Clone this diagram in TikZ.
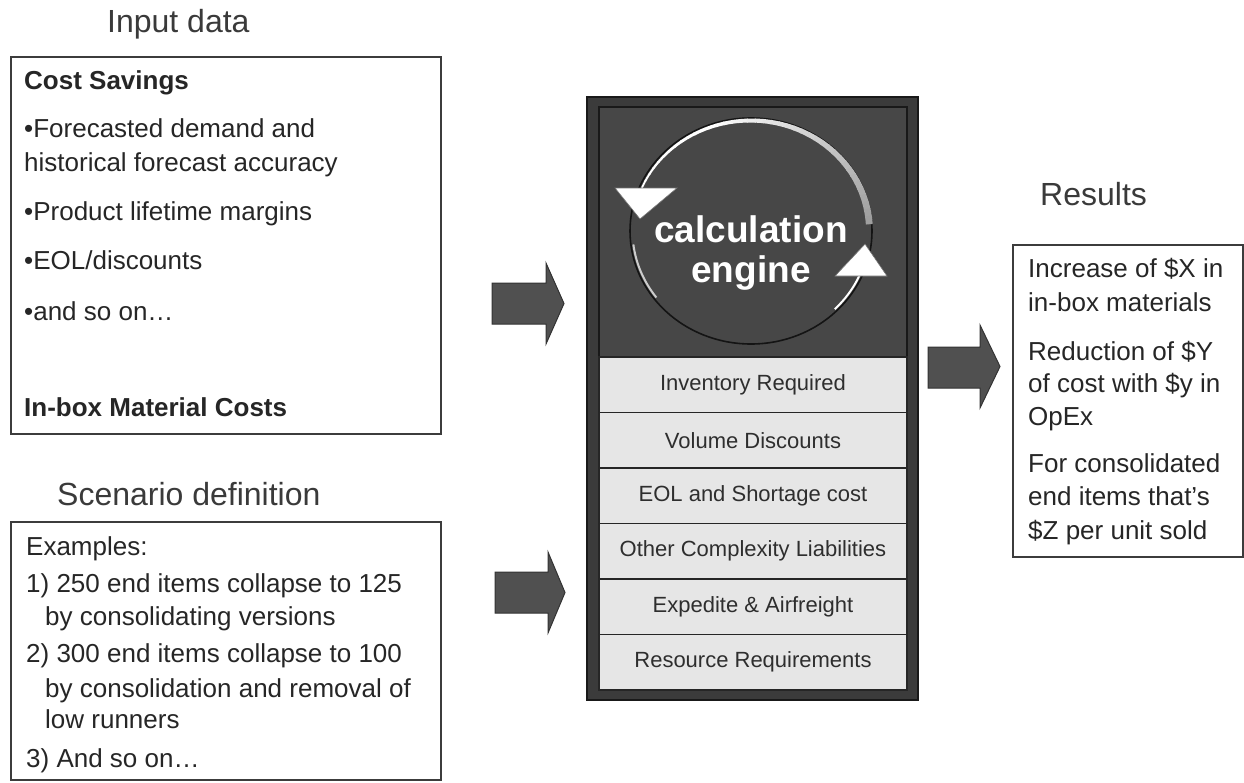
\documentclass[tikz,border=0pt]{standalone}
\usepackage{fontspec}
\setmainfont{Liberation Sans}
\definecolor{framegray}{HTML}{3B3B3B}
\definecolor{darkfill}{HTML}{474747}
\definecolor{rowfill}{HTML}{E6E6E6}
\definecolor{txtgray}{HTML}{262626}
\definecolor{ttlgray}{HTML}{3A3A3A}
\definecolor{boxgray}{HTML}{3C3C3C}
\definecolor{arrowfill}{HTML}{505050}
\definecolor{arrowdraw}{HTML}{333333}
\begin{document}
\begin{tikzpicture}[x=1pt,y=-1pt,
  txt/.style={anchor=base west, inner sep=0pt, text=txtgray, font=\fontsize{26}{30}\selectfont},
  ttl/.style={anchor=base west, inner sep=0pt, text=ttlgray, font=\fontsize{32}{38}\selectfont},
  panel/.style={draw=boxgray, line width=1.4pt, fill=white, anchor=north west, inner sep=0pt, outer sep=0pt},
  rowbox/.style={draw=black!85, line width=1.5pt, fill=rowfill, anchor=north west, inner sep=0pt, outer sep=0pt,
    minimum width=308, minimum height=55.5, text=black!82, font=\fontsize{22}{24}\selectfont},
  blockarrow/.style={fill=arrowfill, draw=arrowdraw, line width=1pt, line join=miter},
  headtri/.style={fill=white, draw=black!55, line width=0.6pt, line join=miter},
]
\useasboundingbox (0,0) rectangle (1244,782);

% ---------- Input data ----------
\node[ttl] (ttlin) at (107,32) {Input data};
\node[panel, minimum width=430, minimum height=377] (input) at (11,57) {};
\node[txt] (cs) at (24,89) {\textbf{Cost Savings}};
\node[txt] (l1) at (24,137) {•Forecasted demand and};
\node[txt] (l2) at (24,171) {historical forecast accuracy};
\node[txt] (l3) at (24,220) {•Product lifetime margins};
\node[txt] (l4) at (24,269) {•EOL/discounts};
\node[txt] (l5) at (24,320) {•and so on…};
\node[txt] (ib) at (24,416) {\textbf{In-box Material Costs}};

% ---------- Scenario definition ----------
\node[ttl] (ttlsc) at (57,505) {Scenario definition};
\node[panel, minimum width=430, minimum height=258] (scen) at (11,522) {};
\node[txt] (s0) at (26,555) {Examples:};
\node[txt] (s1) at (26,592) {1) 250 end items collapse to 125};
\node[txt] (s2) at (45,625) {by consolidating versions};
\node[txt] (s3) at (26,662) {2) 300 end items collapse to 100};
\node[txt] (s4) at (45,697) {by consolidation and removal of};
\node[txt] (s5) at (45,728) {low runners};
\node[txt] (s6) at (26,767) {3) And so on…};

% ---------- Results ----------
\node[ttl] (ttlres) at (1040,205) {Results};
\node[panel, minimum width=230, minimum height=312] (res) at (1013,245) {};
\node[txt] (r1) at (1028,277) {Increase of \$X in};
\node[txt] (r2) at (1028,311) {in-box materials};
\node[txt] (r3) at (1028,360) {Reduction of \$Y};
\node[txt] (r4) at (1028,392) {of cost with \$y in};
\node[txt] (r5) at (1028,425) {OpEx};
\node[txt] (r6) at (1028,472) {For consolidated};
\node[txt] (r7) at (1028,505) {end items that's};
\node[txt] (r8) at (1028,539) {\$Z per unit sold};

% ---------- Calculation engine ----------
\node[draw=black!90, fill=framegray, line width=1.5pt, anchor=north west, inner sep=0pt, outer sep=0pt,
      minimum width=331, minimum height=603] (engine) at (587,97) {};
\node[draw=black!90, fill=darkfill, line width=1.2pt, anchor=north west, inner sep=0pt, outer sep=0pt,
      minimum width=308, minimum height=250] (enginetop) at (599,107) {};
\foreach \t [count=\i] in {Inventory Required, Volume Discounts, EOL and Shortage cost,
    Other Complexity Liabilities, Expedite \& Airfreight, Resource Requirements}{
  \node[rowbox] (row\i) at (599,{357+(\i-1)*55.5}) {\t};
}

% cycle circle
\draw[draw=black!92, line width=1.6pt] (751,231) ellipse [x radius=121, y radius=113];
% upper ribbon (white fading to gray, thickening)
\foreach \i in {0,...,39}{
  \pgfmathsetmacro\a{-157+\i*153/40}
  \pgfmathsetmacro\b{\a+153/40+0.5}
  \pgfmathsetmacro\w{1.8+\i*0.13}
  \pgfmathsetmacro\k{max(0,(\i-12)*1.4)}
  \draw[line width=\w pt, draw=black!\k] (751,231) ++(\a:118.5 and 110.5)
     arc[start angle=\a, end angle=\b, x radius=118.5, y radius=110.5];
}
% lower right thin arc
\draw[line width=2pt, draw=white] (751,231) ++(45:118.5 and 110.5)
   arc[start angle=45, end angle=24, x radius=118.5, y radius=110.5];
% lower left thin arc
\draw[line width=2pt, draw=black!20] (751,231) ++(143:118.5 and 110.5)
   arc[start angle=143, end angle=173, x radius=118.5, y radius=110.5];
% arrowheads of the cycle
\path[headtri] (615,188) -- (677,188) -- (640,219) -- cycle;
\path[headtri] (835,276) -- (887,276) -- (865,244) -- cycle;

\node[align=center, text=white, inner sep=0pt,
      font=\fontsize{37}{40}\selectfont\bfseries] (calc) at (751,253) {calculation\\engine};

% ---------- block arrows ----------
\path[blockarrow] (492,283) -- (546,283) -- (546,263) -- (564,303.5) -- (546,344) -- (546,324) -- (492,324) -- cycle;
\path[blockarrow] (495,572) -- (548,572) -- (548,552) -- (565,592.5) -- (548,633) -- (548,613) -- (495,613) -- cycle;
\path[blockarrow] (928,347) -- (980,347) -- (980,325) -- (1000,366.5) -- (980,408) -- (980,388) -- (928,388) -- cycle;
\end{tikzpicture}
\end{document}
